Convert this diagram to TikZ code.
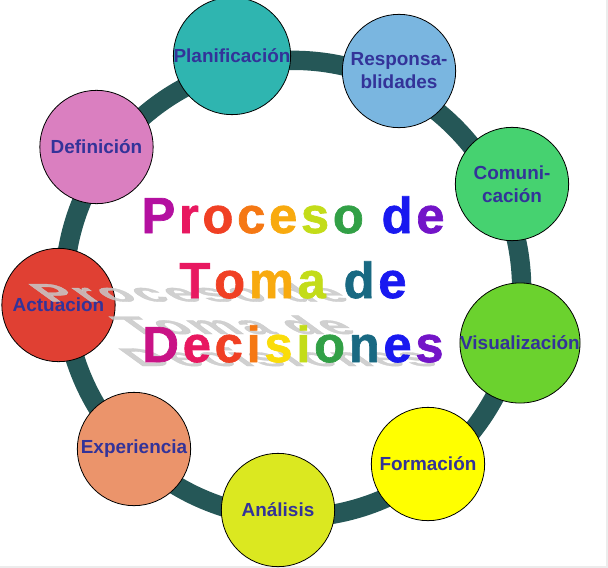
\documentclass[tikz,border=0pt]{standalone}
\usepackage{fontspec}
\setmainfont{Liberation Sans}
\newfontfamily\titlefont{Liberation Sans}[BoldFeatures={FakeBold=1.3}]
\usepackage{tikz}
\definecolor{RingColor}{RGB}{37,87,87}
\definecolor{LabelColor}{RGB}{51,51,153}
\definecolor{ShadowColor}{RGB}{200,200,200}
\definecolor{EdgeColor}{RGB}{236,236,236}
\definecolor{PlanColor}{RGB}{47,181,176}
\definecolor{RespColor}{RGB}{122,182,224}
\definecolor{ComuColor}{RGB}{70,210,112}
\definecolor{VisuColor}{RGB}{107,210,46}
\definecolor{FormColor}{RGB}{255,255,0}
\definecolor{AnalColor}{RGB}{219,232,32}
\definecolor{ExpeColor}{RGB}{235,148,107}
\definecolor{ActuColor}{RGB}{224,64,51}
\definecolor{DefiColor}{RGB}{218,127,192}
% rainbow for the title letters
\definecolor{rbMag}{RGB}{180,16,160}
\definecolor{rbPink}{RGB}{232,24,96}
\definecolor{rbRed}{RGB}{240,64,36}
\definecolor{rbOrng}{RGB}{245,120,20}
\definecolor{rbAmber}{RGB}{248,170,15}
\definecolor{rbYel}{RGB}{250,220,10}
\definecolor{rbLime}{RGB}{195,220,25}
\definecolor{rbGrn}{RGB}{50,160,70}
\definecolor{rbTeal}{RGB}{25,105,130}
\definecolor{rbBlue}{RGB}{25,25,240}
\definecolor{rbViol}{RGB}{115,20,200}
% one spaced letter, coloured unless it is in the shadow
\newif\ifshadowtext
\newcommand{\rb}[2]{\ifshadowtext#2\else\textcolor{#1}{#2}\fi\kern2.8pt\relax}
\newcommand{\titleA}{\rb{rbMag}{P}\rb{rbPink}{r}\rb{rbRed}{o}\rb{rbOrng}{c}\rb{rbAmber}{e}\rb{rbLime}{s}\rb{rbGrn}{o} \rb{rbBlue}{d}\rb{rbViol}{e}\kern-2.8pt}
\newcommand{\titleB}{\rb{rbPink}{T}\rb{rbRed}{o}\rb{rbAmber}{m}\rb{rbLime}{a} \rb{rbTeal}{d}\rb{rbBlue}{e}\kern-2.8pt}
\newcommand{\titleC}{\rb{rbMag!60!rbPink}{D}\rb{rbPink}{e}\rb{rbRed}{c}\rb{rbOrng}{i}\rb{rbYel}{s}\rb{rbLime}{i}\rb{rbGrn}{o}\rb{rbTeal}{n}\rb{rbBlue}{e}\rb{rbViol}{s}\kern-2.8pt}

\begin{document}
\begin{tikzpicture}[x=0.75pt,y=-0.75pt,
  bubble/.style={circle,draw=black,line width=0.6pt,minimum size=85pt,inner sep=0pt,
    align=center,text=LabelColor,font=\bfseries\fontsize{14.2}{17.3}\selectfont},
  titleline/.style={anchor=base,inner sep=0pt,font=\titlefont\bfseries\fontsize{38}{40}\selectfont},
  shadowline/.style={titleline,transform shape,text=ShadowColor,text opacity=0.85,
    execute at begin node=\shadowtexttrue}]
\useasboundingbox (0,0) rectangle (608,568);
\fill[EdgeColor] (606,0) rectangle (608,568);
\fill[EdgeColor] (0,566) rectangle (608,568);
% ring
\draw[RingColor,line width=14.5pt] (293,289) circle[radius=171.5pt];
% steps round the ring
\node[bubble,fill=PlanColor] (plan) at (232,56) {Planificación};
\node[bubble,fill=RespColor] (resp) at (399,71) {Responsa-\\blidades};
\node[bubble,fill=ComuColor] (comu) at (512,184) {Comuni-\\cación};
\node[bubble,fill=VisuColor] (visu) at (520,343) {Visualización};
\node[bubble,fill=FormColor] (form) at (428,464) {Formación};
\node[bubble,fill=AnalColor] (anal) at (278,510) {Análisis};
\node[bubble,fill=ExpeColor] (expe) at (134,449) {Experiencia};
\node[bubble,fill=ActuColor] (actu) at (58.5,305) {Actuacion};
\node[bubble,fill=DefiColor] (defi) at (96.5,147) {Definición};
% title shadow
\begin{scope}[shift={(290,366)},cm={1,0,-0.69,0.5,(0,0)}]
  \node[shadowline] (shadow1) at (0,-129) {\titleA};
  \node[shadowline] (shadow2) at (0,-64) {\titleB};
  \node[shadowline] (shadow3) at (0,0) {\titleC};
\end{scope}
% title
\begin{scope}[shift={(293,362)}]
  \node[titleline] (title1) at (0,-129) {\titleA};
  \node[titleline] (title2) at (0,-64) {\titleB};
  \node[titleline] (title3) at (0,0) {\titleC};
\end{scope}
\end{tikzpicture}
\end{document}
